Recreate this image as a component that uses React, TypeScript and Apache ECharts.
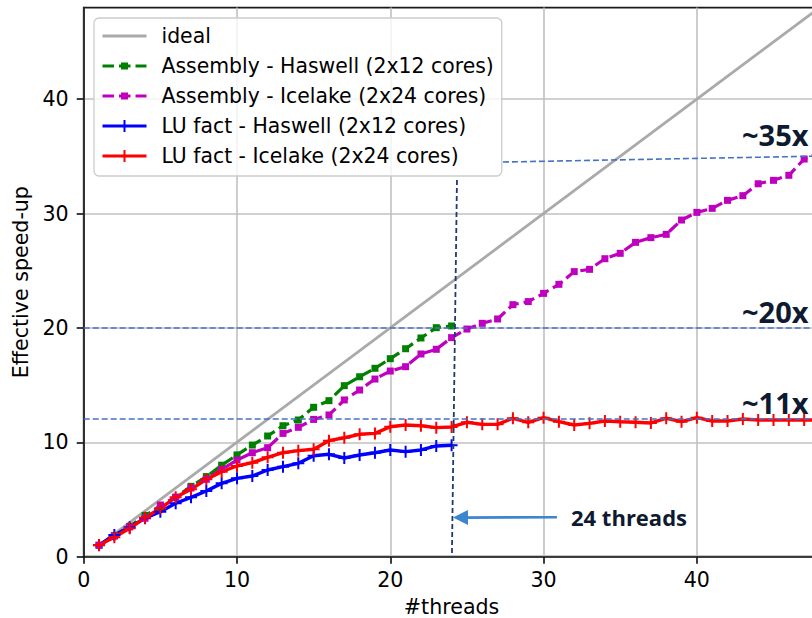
import React, { useEffect, useRef } from "react";
import * as echarts from "echarts";

const threads = [
  1, 2, 3, 4, 5, 6, 7, 8, 9, 10, 11, 12, 13, 14, 15, 16, 17, 18, 19, 20, 21, 22, 23, 24,
  25, 26, 27, 28, 29, 30, 31, 32, 33, 34, 35, 36, 37, 38, 39, 40, 41, 42, 43, 44, 45, 46, 47, 48,
];

const idealX = [1, 48];
const idealY = [1, 48];

const asmHaswell = [
  1.0, 1.85, 2.65, 3.6, 4.35, 5.2, 6.15, 7.0, 8.0, 8.9, 9.76, 10.55, 11.45, 11.95, 13.06, 13.64,
  14.95, 15.73, 16.47, 17.31, 18.18, 19.12, 20.02, 20.17,
];

const asmIcelake = [
  1.0, 1.8, 2.6, 3.36, 4.52, 5.19, 6.0, 6.77, 7.64, 8.45, 9.09, 9.53, 10.78, 11.31, 12.0, 12.39,
  13.7, 14.57, 15.53, 16.23, 16.61, 17.72, 18.13, 19.15, 19.9, 20.4, 20.78, 22.03, 22.3, 23.02,
  23.81, 24.92, 25.12, 26.05, 26.52, 27.48, 27.89, 28.18, 29.43, 30.1, 30.45, 31.15, 31.56, 32.6,
  32.9, 33.34, 34.76, 35.3,
];

const luHaswell = [
  1.0, 1.9, 2.57, 3.36, 3.93, 4.67, 5.19, 5.74, 6.41, 6.85, 7.05, 7.58, 7.87, 8.16, 8.83, 8.95,
  8.63, 8.89, 9.09, 9.33, 9.18, 9.33, 9.68, 9.74,
];

const luIcelake = [
  1.02, 1.7, 2.48, 3.41, 4.23, 5.19, 5.89, 6.76, 7.43, 7.93, 8.22, 8.69, 9.09, 9.27, 9.39, 10.14,
  10.4, 10.7, 10.78, 11.36, 11.51, 11.45, 11.28, 11.34, 11.75, 11.57, 11.57, 12.1, 11.75, 12.15,
  11.8, 11.51, 11.66, 11.86, 11.8, 11.75, 11.69, 12.1, 11.8, 12.15, 11.86, 11.86, 12.04, 11.95,
  11.95, 11.95, 11.95, 11.95,
];

const seriesNames = [
  "ideal",
  "Assembly - Haswell (2x12 cores)",
  "Assembly - Icelake (2x24 cores)",
  "LU fact - Haswell (2x12 cores)",
  "LU fact - Icelake (2x24 cores)",
];

const tickValues = [0, 10, 20, 30, 40];

// annotation values (data coordinates)
const refLevels = [20, 12.08];
const slopedRef = [
  [27.35, 34.5],
  [48, 35.02],
];
const vline24 = [
  [24.35, 32.93],
  [24.02, 0],
];
const arrow24 = [
  [30.87, 3.45],
  [24.58, 3.42],
];

const FONT = "DejaVu Sans";
const FS = 20.6;
const LEGEND_FS = 20.4;
const SQUARE = "path://M0,0M12,12M2.5,2.5h7v7h-7z";
const PLUS = "path://M5,0h2v5h5v2h-5v5h-2v-5h-5v-2h5z";

export default function App() {
  const ref = useRef<HTMLDivElement>(null);

  useEffect(() => {
    if (!ref.current) return;
    const chart = echarts.init(ref.current, null, { renderer: "svg" });

    const pairs = (ys: number[]) => ys.map((y, i) => [threads[i], y]);

    const axisCommon = {
      type: "value" as const,
      min: 0,
      max: 48,
      interval: 10,
      nameLocation: "middle" as const,
      nameTextStyle: { fontFamily: FONT, fontSize: FS, color: "#000" },
      axisLine: { show: true, onZero: false, lineStyle: { color: "#1a1a1a", width: 1.7 } },
      axisTick: {
        show: true,
        inside: false,
        length: 7,
        customValues: tickValues,
        lineStyle: { color: "#1a1a1a", width: 1.7 },
      },
      splitLine: { show: true, lineStyle: { color: "#c0c0c0", width: 1.6 } },
    };

    const annotText = (text: string, x: number, y: number, size: number) => ({
      type: "text",
      x,
      y,
      style: {
        text,
        fontFamily: "Open Sans",
        fontWeight: "bold",
        fontSize: size,
        fill: "#0e1a2f",
        align: "left",
        verticalAlign: "middle",
      },
    });

    const option: any = {
      animation: false,
      grid: {
        left: 83.7,
        top: 7.6,
        width: 735.8,
        height: 549.1,
        outerBoundsMode: "none",
        containLabel: false,
        show: true,
        borderColor: "#1a1a1a",
        borderWidth: 1.7,
        backgroundColor: "transparent",
      },
      xAxis: {
        ...axisCommon,
        name: "#threads",
        nameGap: 40,
        axisLabel: {
          fontFamily: FONT,
          fontSize: FS,
          color: "#000",
          margin: 13,
          customValues: tickValues,
        },
      },
      yAxis: {
        ...axisCommon,
        name: "Effective speed-up",
        nameGap: 44,
        nameRotate: 90,
        axisLabel: {
          fontFamily: FONT,
          fontSize: FS,
          color: "#000",
          margin: 15,
          customValues: tickValues,
        },
      },
      legend: {
        data: [
          { name: seriesNames[0], itemStyle: { opacity: 0 } },
          seriesNames[1],
          seriesNames[2],
          seriesNames[3],
          seriesNames[4],
        ],
        orient: "vertical",
        left: 94,
        top: 18,
        padding: [8, 8, 10, 7],
        itemWidth: 44,
        itemHeight: 15,
        itemGap: 10,
        backgroundColor: "rgba(255,255,255,0.8)",
        borderColor: "#cccccc",
        borderWidth: 1.3,
        borderRadius: 5,
        selectedMode: false,
        lineStyle: { width: 3 },
        textStyle: {
          fontFamily: FONT,
          fontSize: LEGEND_FS,
          lineHeight: 20,
          color: "#000",
          padding: [0, 0, 0, 10],
        },
      },
      graphic: [
        annotText("~35x", 742, 134, 29),
        annotText("~20x", 742, 311, 29),
        annotText("~11x", 742, 402, 29),
        annotText("24 threads", 571, 517, 22),
      ],
      series: [
        {
          name: seriesNames[0],
          type: "line",
          data: idealX.map((x, i) => [x, idealY[i]]),
          showSymbol: false,
          symbol: "circle",
          symbolSize: 0,
          color: "#aaaaaa",
          lineStyle: { color: "#aaaaaa", width: 2.8 },
          itemStyle: { color: "#aaaaaa" },
          emphasis: { disabled: true },
          silent: true,
        },
        {
          name: seriesNames[1],
          type: "line",
          data: pairs(asmHaswell),
          symbol: SQUARE,
          symbolSize: 12,
          color: "#008000",
          lineStyle: { color: "#008000", width: 3.2, type: [11.5, 5] },
          itemStyle: { color: "#008000" },
          emphasis: { disabled: true },
          silent: true,
        },
        {
          name: seriesNames[2],
          type: "line",
          data: pairs(asmIcelake),
          symbol: SQUARE,
          symbolSize: 12,
          color: "#bf00bf",
          lineStyle: { color: "#bf00bf", width: 3.2, type: [11.5, 5] },
          itemStyle: { color: "#bf00bf" },
          emphasis: { disabled: true },
          silent: true,
        },
        {
          name: seriesNames[3],
          type: "line",
          data: pairs(luHaswell),
          symbol: PLUS,
          symbolSize: 12,
          color: "#0000ff",
          lineStyle: { color: "#0000ff", width: 3.4 },
          itemStyle: { color: "#0000ff" },
          emphasis: { disabled: true },
          silent: true,
        },
        {
          name: seriesNames[4],
          type: "line",
          data: pairs(luIcelake),
          symbol: PLUS,
          symbolSize: 12,
          color: "#ff0000",
          lineStyle: { color: "#ff0000", width: 3.4 },
          itemStyle: { color: "#ff0000" },
          emphasis: { disabled: true },
          silent: true,
        },
        {
          name: "annotations",
          type: "line",
          data: [],
          silent: true,
          markLine: {
            silent: true,
            symbol: ["none", "none"],
            label: { show: false },
            emphasis: { disabled: true },
            data: [
              ...refLevels.map((v) => ({
                yAxis: v,
                lineStyle: { color: "#4472c4", width: 1.6, type: [6, 3] },
              })),
              [
                {
                  coord: slopedRef[0],
                  lineStyle: { color: "#4472c4", width: 1.6, type: [6, 3] },
                },
                { coord: slopedRef[1] },
              ],
              [
                {
                  coord: vline24[0],
                  lineStyle: { color: "#1f3a6e", width: 1.8, type: [5, 3] },
                },
                { coord: vline24[1] },
              ],
              [
                {
                  coord: arrow24[0],
                  symbol: "none",
                  lineStyle: { color: "#3c85cf", width: 2.6, type: "solid" },
                },
                { coord: arrow24[1], symbol: "triangle", symbolSize: [15, 15] },
              ],
            ],
          },
        },
      ],
    };

    chart.setOption(option);
    return () => chart.dispose();
  }, []);

  return (
    <div
      ref={ref}
      style={{ position: "absolute", left: 0, top: 0, width: 812, height: 618 }}
    />
  );
}
